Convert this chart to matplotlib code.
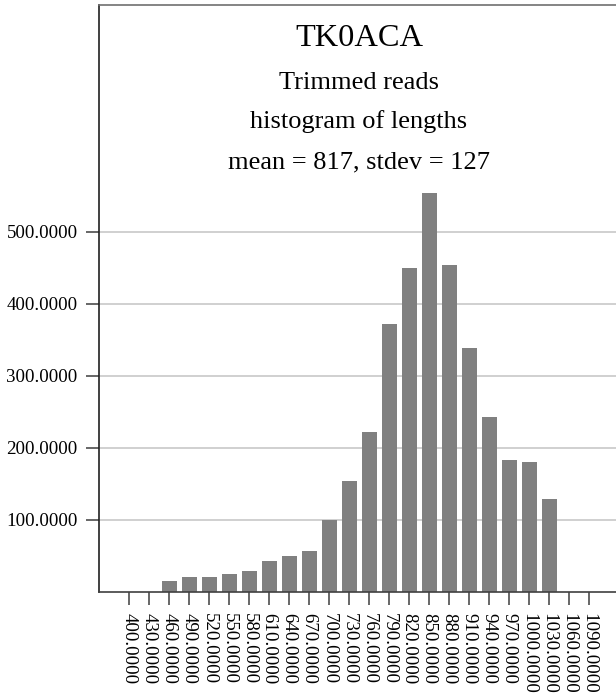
import numpy as np
import matplotlib.pyplot as plt

plt.rcParams['font.family'] = ['Liberation Serif', 'DejaVu Serif']

# read-length bins (bp) and the number of trimmed reads in each
bin_starts = [400, 430, 460, 490, 520, 550, 580, 610, 640, 670, 700, 730,
              760, 790, 820, 850, 880, 910, 940, 970, 1000, 1030, 1060, 1090]
counts = [0, 0, 14, 20, 20, 25, 28, 42, 49, 56, 100, 154,
          221, 372, 449, 554, 453, 338, 243, 182, 180, 128, 0, 0]
y_ticks = [100, 200, 300, 400, 500]

title_lines = ['TK0ACA', 'Trimmed reads', 'histogram of lengths',
               'mean = 817, stdev = 127']

fig = plt.figure(figsize=(6.16, 6.96), dpi=100)
ax = fig.add_axes([99 / 616, 104.5 / 696, 520 / 616, 586.5 / 696])

ax.bar(bin_starts, counts, width=22.5, color='#808080', zorder=2)

ax.set_xlim(355, 1135)
ax.set_ylim(0, 814.6)

ax.set_yticks(y_ticks)
ax.set_yticklabels(['%.4f' % v for v in y_ticks], fontsize=13.6)
ax.set_xticks(bin_starts)
ax.set_xticklabels(['%.4f' % v for v in bin_starts], fontsize=13.6,
                   rotation=270, va='top', ha='center')

ax.grid(axis='y', color='#c8c8c8', linewidth=1.2)
ax.set_axisbelow(True)

ax.tick_params(axis='both', direction='out', length=9.4, width=1.4,
               color='#666666', pad=6)
ax.spines['right'].set_visible(False)
ax.spines['left'].set_color('#202020')
ax.spines['bottom'].set_color('#404040')
ax.spines['top'].set_color('#707070')
for s in ax.spines.values():
    s.set_linewidth(1.2)

sizes = [23.3, 19, 19, 19]
ys = [0.930, 0.857, 0.790, 0.722]
for txt, fs, y in zip(title_lines, sizes, ys):
    ax.text(0.5, y, txt, transform=ax.transAxes, ha='center',
            va='baseline', fontsize=fs)

fig.savefig('out.png', dpi=100)
